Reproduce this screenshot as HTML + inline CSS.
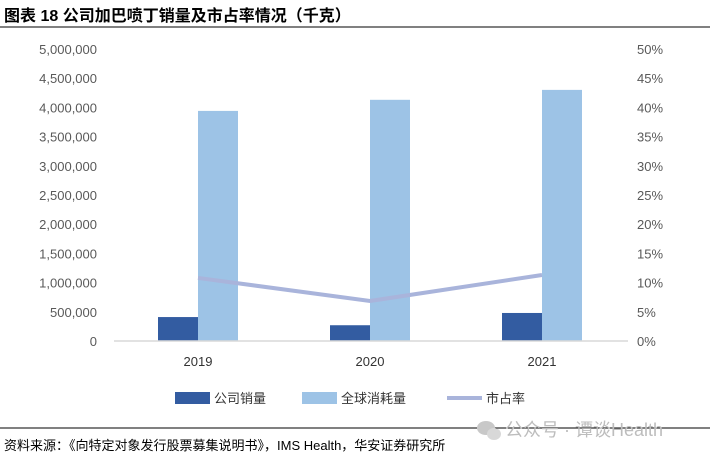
<!DOCTYPE html>
<html><head><meta charset="utf-8"><style>
body{margin:0;background:#fff;font-family:"Liberation Sans","Noto Sans CJK SC",sans-serif}
svg text{font-family:"Liberation Sans","Noto Sans CJK SC",sans-serif}
</style></head><body>
<svg width="716" height="460" xmlns="http://www.w3.org/2000/svg">
<text x="4" y="21" font-size="16" font-weight="bold" fill="#000">图表 18 公司加巴喷丁销量及市占率情况（千克）</text>
<line x1="0" y1="27" x2="710" y2="27" stroke="#000" stroke-width="1"/>
<g id="yl"></g><g id="yr"></g><g id="bars"></g><g id="xl"></g>
<line x1="114" y1="341" x2="628" y2="341" stroke="#d9d9d9" stroke-width="1.5"/>
<polyline id="line" fill="none" stroke="#a9b4db" stroke-width="4"/>
<g>
<rect x="175" y="392" width="35" height="12" fill="#335ca1"/>
<text x="214" y="403" font-size="13" fill="#333">公司销量</text>
<rect x="302" y="392" width="35" height="12" fill="#9dc3e6"/>
<text x="341" y="403" font-size="13" fill="#333">全球消耗量</text>
<line x1="447" y1="398" x2="482" y2="398" stroke="#a9b4db" stroke-width="4"/>
<text x="486" y="403" font-size="13" fill="#333">市占率</text>
</g>
<line x1="0" y1="428" x2="710" y2="428" stroke="#000" stroke-width="1"/>
<g>
<ellipse cx="486" cy="428" rx="9" ry="7" fill="#c8c8c8"/>
<ellipse cx="494" cy="434" rx="7" ry="6" fill="#d8d8d8"/>
<text x="505" y="436" font-size="18" fill="#bdbdbd">公众号 · 谭谈Health</text>
</g>
<text x="4" y="450" font-size="13" fill="#000">资料来源：《向特定对象发行股票募集说明书》，IMS Health，华安证券研究所</text>
</svg>
<script>
const categories=["2019","2020","2021"];
const companySales=[410000,270000,480000];
const globalUse=[3940000,4130000,4300000];
const marketShare=[10.8,6.85,11.3];
const leftTicks=[0,500000,1000000,1500000,2000000,2500000,3000000,3500000,4000000,4500000,5000000];
const rightTicks=[0,5,10,15,20,25,30,35,40,45,50];
const NS="http://www.w3.org/2000/svg";
const y0=341,yTop=49;
const yL=v=>y0-(v/5000000)*(y0-yTop);
const yR=v=>y0-(v/50)*(y0-yTop);
const xC=i=>198+i*172;
function mk(t,a,p,txt){const e=document.createElementNS(NS,t);for(const k in a)e.setAttribute(k,a[k]);if(txt!=null)e.textContent=txt;document.getElementById(p).appendChild(e);return e;}
leftTicks.forEach(v=>{const e=mk("text",{x:97,y:yL(v)+5,"font-size":13,fill:"#595959","text-anchor":"end"},"yl",v.toLocaleString("en-US"));

});
rightTicks.forEach(v=>{const e=mk("text",{x:637,y:yR(v)+5,"font-size":13,fill:"#595959"},"yr",v+"%");

});
categories.forEach((c,i)=>{
const a=mk("rect",{x:xC(i)-40,y:yL(companySales[i]),width:40,height:y0-yL(companySales[i]),fill:"#335ca1"},"bars");


const b=mk("rect",{x:xC(i),y:yL(globalUse[i]),width:40,height:y0-yL(globalUse[i]),fill:"#9dc3e6"},"bars");


const t=mk("text",{x:xC(i),y:366,"font-size":13,fill:"#333","text-anchor":"middle"},"xl",c);


});
document.getElementById("line").setAttribute("points",marketShare.map((v,i)=>xC(i)+","+yR(v)).join(" "));
</script>
</body></html>
